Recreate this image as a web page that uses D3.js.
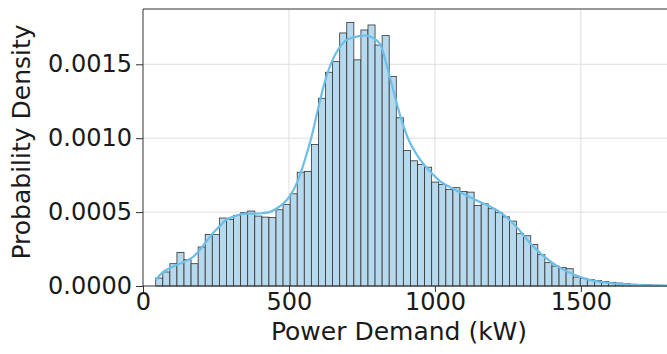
<!DOCTYPE html>
<html>
<head>
<meta charset="utf-8">
<script src="https://cdn.jsdelivr.net/npm/d3@7"></script>
<style>
    body { margin: 0; background: #fff; }
    .tick text { font-family: "DejaVu Sans", sans-serif; font-size: 24px; fill: #1a1a1a; }
    .axisLabel { font-family: "DejaVu Sans", sans-serif; font-size: 25px; fill: #1a1a1a; }
</style>
</head>
<body>
<script>
//histogram bins (kW) and their densities
var binStart = 43.5;
var binWidth = 24.24;
var density = [
    0.000054, 0.000095, 0.000151, 0.000226, 0.000178, 0.000151, 0.000264, 0.000349,
    0.000349, 0.000460, 0.000450, 0.000478, 0.000496, 0.000507, 0.000473, 0.000466,
    0.000463, 0.000516, 0.000552, 0.000624, 0.000770, 0.000775, 0.000957, 0.001270,
    0.001446, 0.001518, 0.001712, 0.001782, 0.001530, 0.001732, 0.001766, 0.001630,
    0.001694, 0.001417, 0.001138, 0.000917, 0.000847, 0.000822, 0.000804, 0.000703,
    0.000687, 0.000653, 0.000665, 0.000640, 0.000635, 0.000545, 0.000556, 0.000523,
    0.000496, 0.000468, 0.000439, 0.000354, 0.000340, 0.000280, 0.000212, 0.000158,
    0.000135, 0.000125, 0.000117, 0.000060, 0.000052, 0.000043, 0.000038, 0.000030,
    0.000025, 0.000020, 0.000016, 0.000012, 0.000010, 0.000008, 0.000006, 0.000005,
    0.000004
];

//kde curve
var kdeX = [43.5, 69.5, 118.8, 166.8, 190.8, 214.7, 238.7, 262.7, 286.6, 310.6, 334.6,
    358.6, 383, 407.5, 432.5, 456.5, 480.5, 504.5, 528.4, 553.8, 577, 601, 625.7, 648.3,
    673.6, 697.6, 722.6, 746.6, 766.1, 788.7, 811.6, 836.6, 860.6, 886, 911, 937.3, 960,
    990.8, 1017, 1051, 1085.6, 1119.9, 1154, 1182.5, 1230.5, 1279.8, 1327.7, 1376.7,
    1424.7, 1473.6, 1521.6, 1570.9, 1618.8, 1667.8, 1725, 1795];
var kdeY = [0.000040, 0.000095, 0.000145, 0.000190, 0.000235, 0.000295, 0.000355, 0.000405,
    0.000450, 0.000470, 0.000485, 0.000490, 0.000490, 0.000492, 0.000500, 0.000523,
    0.000557, 0.000613, 0.000703, 0.000849, 0.001007, 0.001210, 0.001401, 0.001525,
    0.001615, 0.001665, 0.001682, 0.001692, 0.001694, 0.001678, 0.001638, 0.001480,
    0.001300, 0.001120, 0.000984, 0.000890, 0.000827, 0.000760, 0.000710, 0.000669,
    0.000635, 0.000601, 0.000568, 0.000545, 0.000489, 0.000399, 0.000286, 0.000196,
    0.000128, 0.000079, 0.000045, 0.000027, 0.000016, 0.000009, 0.000005, 0.000003];

//axis ticks and limits
var xTicks = [0, 500, 1000, 1500];
var yTicks = [0, 0.0005, 0.0010, 0.0015];
var xMax = 1795;
var yMax = 0.001874;

window.onload = function(){

    var w = 667, h = 354;
    var left = 143, right = 667, top = 9, bottom = 286;

    var svg = d3.select("body")
        .append("svg")
        .attr("width", w)
        .attr("height", h)
        .style("background-color", "#fff");

    //scales
    var x = d3.scaleLinear()
        .domain([0, xMax])
        .range([left, right]);

    var y = d3.scaleLinear()
        .domain([0, yMax])
        .range([bottom, top]);

    //grid lines
    svg.append("g")
        .selectAll("line")
        .data(xTicks.slice(1))
        .enter()
        .append("line")
        .attr("x1", function(d){ return x(d); })
        .attr("x2", function(d){ return x(d); })
        .attr("y1", top)
        .attr("y2", bottom)
        .style("stroke", "#dedede")
        .style("stroke-width", 1);

    svg.append("g")
        .selectAll("line")
        .data(yTicks.slice(1))
        .enter()
        .append("line")
        .attr("x1", left)
        .attr("x2", right)
        .attr("y1", function(d){ return y(d); })
        .attr("y2", function(d){ return y(d); })
        .style("stroke", "#dedede")
        .style("stroke-width", 1);

    //histogram bars
    svg.append("g")
        .selectAll("rect")
        .data(density)
        .enter()
        .append("rect")
        .attr("x", function(d, i){ return x(binStart + i * binWidth); })
        .attr("width", function(d, i){ return x(binStart + (i + 1) * binWidth) - x(binStart + i * binWidth); })
        .attr("y", function(d){ return y(d); })
        .attr("height", function(d){ return bottom - y(d); })
        .style("fill", "#b6d9ee")
        .style("stroke", "#333")
        .style("stroke-width", 0.8);

    //kde line
    var line = d3.line()
        .x(function(d){ return x(d[0]); })
        .y(function(d){ return y(d[1]); })
        .curve(d3.curveCatmullRom);

    svg.append("path")
        .datum(d3.zip(kdeX, kdeY))
        .attr("d", line)
        .style("fill", "none")
        .style("stroke", "#6cbfe9")
        .style("stroke-width", 2.2);

    //axes
    svg.append("g")
        .attr("transform", "translate(0," + bottom + ")")
        .call(d3.axisBottom(x).tickValues(xTicks).tickSize(6).tickPadding(1).tickFormat(d3.format("d")));

    svg.append("g")
        .attr("transform", "translate(" + left + ",0)")
        .call(d3.axisLeft(y).tickValues(yTicks).tickSize(7).tickPadding(4).tickFormat(d3.format(".4f")));

    svg.selectAll(".domain").remove();
    svg.selectAll(".tick line").style("stroke", "#333");

    //spines
    svg.append("path")
        .attr("d", "M" + right + "," + top + "H" + left + "V" + bottom + "H" + right)
        .style("fill", "none")
        .style("stroke", "#333")
        .style("stroke-width", 1);

    //axis labels
    svg.append("text")
        .attr("class", "axisLabel")
        .attr("text-anchor", "middle")
        .attr("x", 399)
        .attr("y", 340)
        .text("Power Demand (kW)");

    svg.append("text")
        .attr("class", "axisLabel")
        .attr("text-anchor", "middle")
        .attr("transform", "translate(30," + 142 + ") rotate(-90)")
        .text("Probability Density");
};
</script>
</body>
</html>
